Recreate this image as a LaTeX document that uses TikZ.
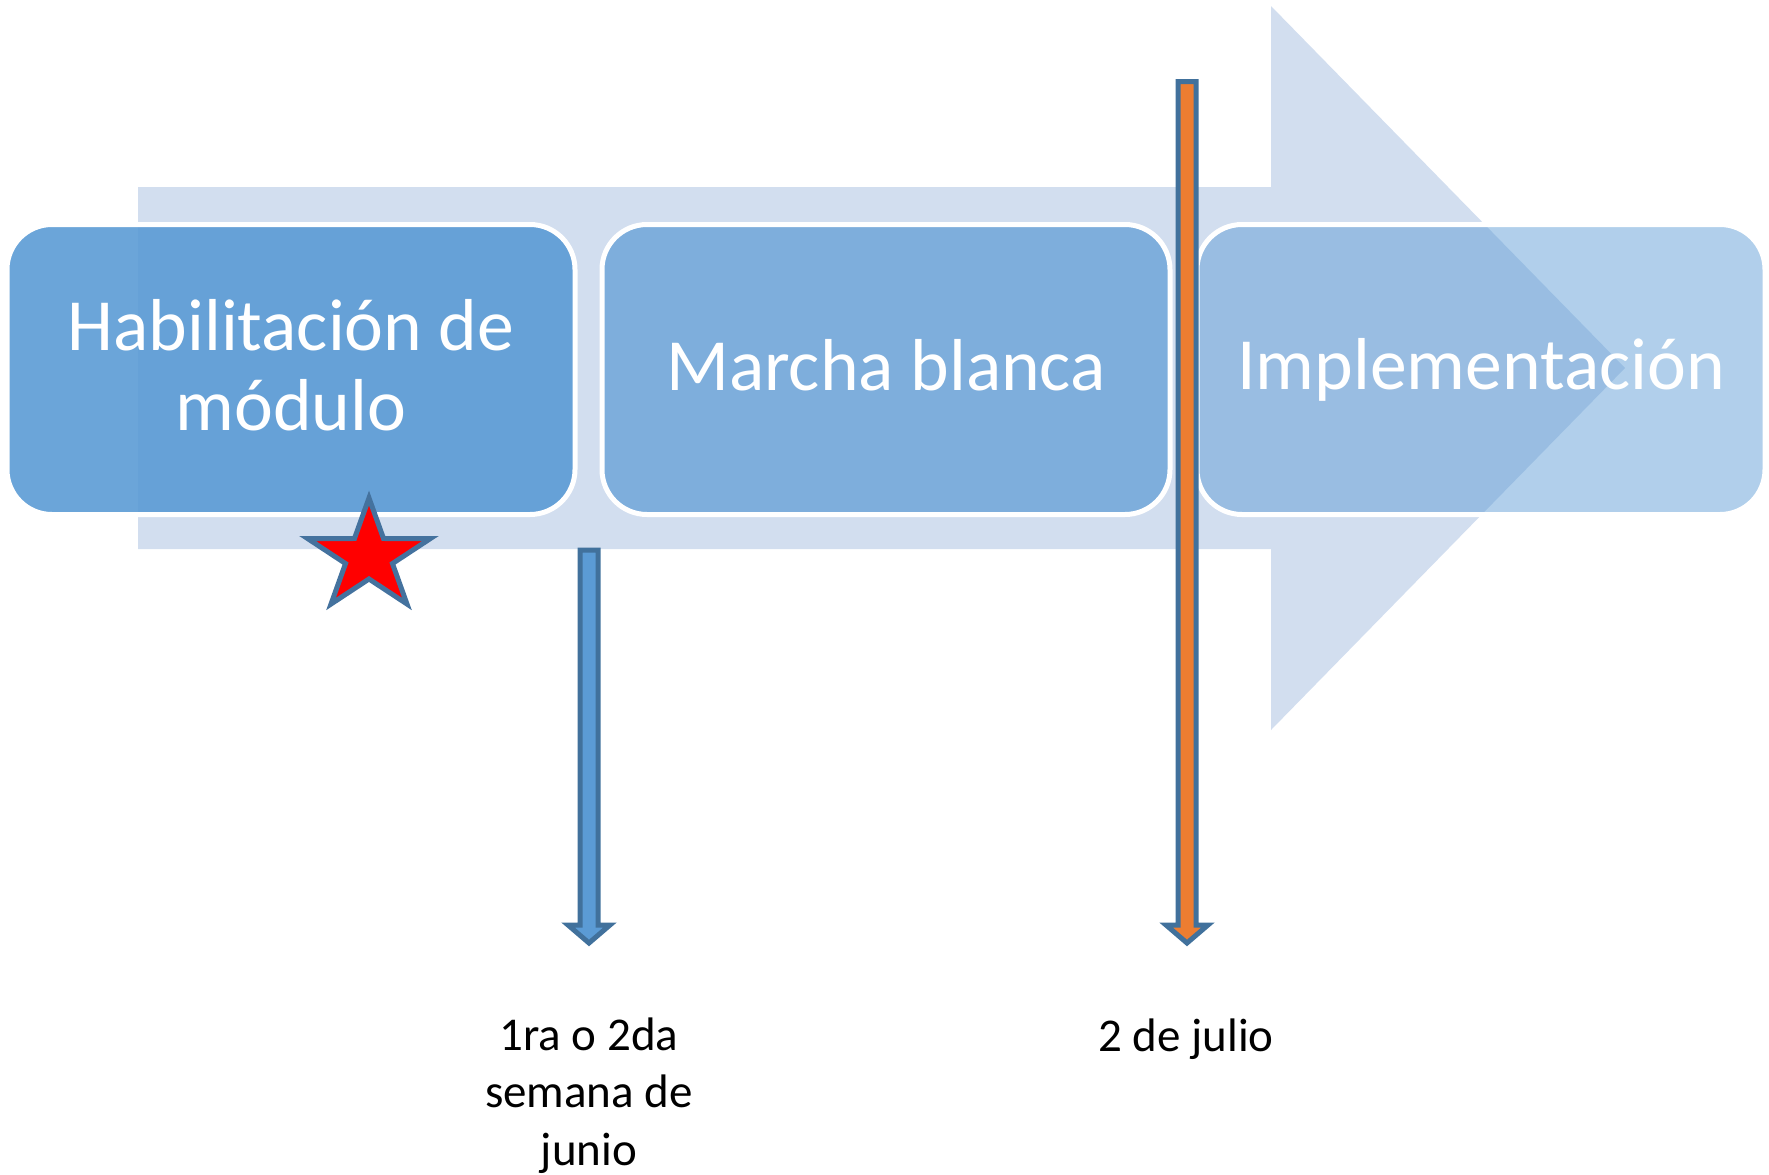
\documentclass[tikz,border=0pt]{standalone}
\usepackage{fontspec}
\setmainfont{Carlito}
\usepackage{xcolor}
\usepackage{tikz}
\usetikzlibrary{positioning}

\definecolor{shaftblue}{RGB}{210,222,239}
\definecolor{accentblue}{RGB}{91,155,213}
\definecolor{edgeblue}{RGB}{65,113,156}
\definecolor{starblue}{RGB}{68,114,158}
\definecolor{fechaorange}{RGB}{237,125,49}

\tikzset{
  stage/.style={rounded corners=22.5pt, draw=white, line width=2.5pt, fill=accentblue,
    text=white, text opacity=1, minimum width=284pt, minimum height=145pt,
    align=center, inner sep=0pt, outer sep=0pt, font=\fontsize{36.8}{40}\selectfont},
  datelabel/.style={align=center, inner sep=0pt, anchor=base,
    font=\fontsize{23.5}{28.75}\selectfont},
  dateshaft/.style={draw=edgeblue, line width=2.5pt, miter limit=10},
}

% down arrow: x, top y, fill
\newcommand{\fechaflecha}[3]{%
  \draw[dateshaft, fill=#3] (#1-9,#2) -- (#1+9,#2) -- (#1+9,925) -- (#1+21,925)
    -- (#1,943) -- (#1-21,925) -- (#1-9,925) -- cycle;}

\begin{document}
\begin{tikzpicture}[x=0.5pt,y=0.5pt,yscale=-1]
\useasboundingbox (0,0) rectangle (1769,1174);

% big background arrow
\fill[shaftblue] (138,187) -- (1271,187) -- (1271,6) -- (1625,368) -- (1271,730)
  -- (1271,549) -- (138,549) -- cycle;

% stages
\node[stage, fill opacity=0.9, text depth=4.5pt] (habil) at (291,369.5) {Habilitación de\\módulo};
\node[stage, fill opacity=0.7, text depth=4.5pt, right=13.5pt of habil] (marcha) {Marcha blanca};
\node[stage, fill opacity=0.48, right=13.5pt of marcha] (implem) {Implementación};

% star
\draw[fill=red, draw=starblue, line width=2.5pt, miter limit=10]
  (369,{556.6-58.6}) \foreach \k [evaluate=\k as \r using {mod(\k,2)==0 ? 1 : 0.382}] in {1,...,9}
  { -- ({369+64.6*\r*cos(90+36*\k)}, {556.6-58.6*\r*sin(90+36*\k)}) } -- cycle;

% date arrows
\fechaflecha{589}{550}{accentblue}
\fechaflecha{1187}{81.5}{fechaorange}

% Text Node
\node[datelabel] (semana) at (589,1165) {1ra o 2da\\semana de\\junio};
% Text Node
\node[datelabel] (julio) at (1186,1051) {2 de julio};

\end{tikzpicture}
\end{document}
